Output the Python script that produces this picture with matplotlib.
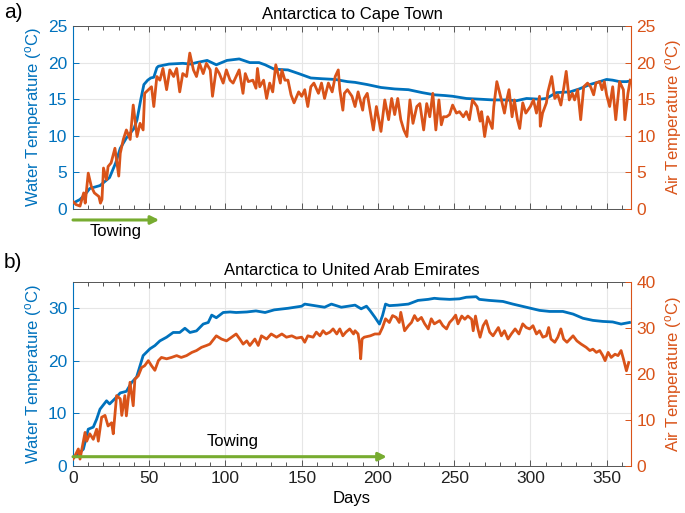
import matplotlib
matplotlib.use("Agg")
import matplotlib.pyplot as plt
from matplotlib.ticker import MultipleLocator

plt.rcParams['font.family'] = ['Liberation Sans', 'DejaVu Sans']
plt.rcParams['mathtext.fontset'] = 'custom'
plt.rcParams['mathtext.rm'] = 'Liberation Sans'
plt.rcParams['mathtext.it'] = 'Liberation Sans'
plt.rcParams['mathtext.default'] = 'regular'

# ---------------- data: panel a (Antarctica to Cape Town) ----------------
a_water_days = [0, 4.6, 8, 11, 17.7, 20, 24, 28, 31, 35, 40, 42, 44.5, 46.5, 49, 51, 53, 55, 56, 63, 72,
                77, 81, 88, 91, 94, 101, 109, 116, 122, 126, 132, 141, 148, 156, 163, 172, 180, 185, 193,
                202, 211, 220, 229, 237, 244, 249, 258, 267, 275.5, 284, 291, 297.5, 306, 310.5, 317, 326,
                332, 339, 345.5, 350, 354, 358.5, 363, 366]
a_water = [0.8, 1.3, 2.0, 2.8, 3.2, 3.6, 4.3, 6.3, 8.3, 9.7, 11.0, 12.2, 15.0, 17.0, 17.6, 17.9, 18.0, 19.3,
           19.5, 19.8, 19.9, 19.8, 20.0, 20.3, 20.0, 19.7, 20.3, 20.5, 20.0, 20.0, 19.7, 19.1, 19.0, 18.5,
           17.9, 17.8, 17.7, 17.4, 17.3, 17.0, 16.6, 16.4, 16.3, 15.9, 15.6, 15.5, 15.4, 15.1, 15.0, 14.9,
           14.9, 14.8, 15.1, 15.0, 15.1, 15.9, 16.0, 16.4, 17.0, 17.4, 17.7, 17.6, 17.4, 17.4, 17.5]

a_air_days = [0, 2, 4.6, 7, 8, 10, 12, 14, 17, 18, 19, 20, 22, 23, 25, 27.5, 30, 31, 33, 35, 37.5, 39.5, 42,
              44, 46, 47, 49.5, 51.5, 53, 55, 57, 59, 61.4, 63.5, 66, 68, 70, 72, 74.5, 76.6, 79, 81, 83,
              85.4, 87.5, 90, 91.5, 94, 96, 98.5, 100.6, 103, 105, 107, 109, 111.5, 113, 115, 118, 120,
              121, 122.5, 125, 127, 129, 131, 133, 136, 137, 139, 141, 143, 145, 148, 150, 152, 154, 156,
              158, 161, 163, 165, 167.5, 170, 172, 174, 175, 177, 178, 180, 183, 185, 187, 190, 191, 193,
              197, 199, 202, 204.5, 207, 209, 211, 213, 215, 217, 219, 221, 223, 225.5, 227.5, 230, 232,
              234, 236, 238, 240, 241.6, 243, 245, 247, 249, 251.5, 253.5, 256, 258, 260, 262, 265, 267,
              268, 270, 272, 275, 276, 278, 281, 283, 284.5, 286, 288, 289.5, 291.5, 293, 295, 297, 300,
              302, 304, 306, 306.5, 308, 310.5, 311.5, 314, 316, 318, 320, 322, 323.5, 325.5, 327.5, 329,
              331, 333, 335, 337.5, 339.5, 341.5, 343, 345.5, 347, 348.5, 350, 352, 354, 356, 358.5, 361,
              362, 364, 365.5]
a_air = [1.0, 0.6, 0.4, 2.2, 0.8, 4.9, 3.1, 2.2, 1.7, 0.8, 1.3, 5.6, 4.0, 5.8, 6.3, 8.3, 4.5, 7.6, 9.5, 10.8,
         9.5, 14.2, 9.9, 11.7, 10.8, 15.8, 16.3, 16.7, 14.0, 18.1, 17.6, 19.2, 16.3, 19.0, 18.1, 19.2, 16.0,
         18.5, 18.1, 21.3, 19.0, 18.1, 19.9, 18.5, 19.9, 19.0, 15.4, 19.2, 18.5, 17.2, 19.0, 17.6, 17.2,
         18.1, 19.0, 15.8, 18.5, 17.4, 17.6, 16.5, 19.2, 16.7, 17.6, 15.1, 17.2, 16.0, 19.7, 17.2, 19.0,
         17.6, 17.6, 15.6, 14.5, 16.0, 15.4, 16.3, 14.0, 16.7, 17.2, 15.8, 17.2, 15.1, 17.2, 16.0, 18.1,
         19.0, 16.3, 13.5, 15.8, 16.3, 15.4, 14.0, 16.0, 13.5, 15.1, 15.8, 10.8, 14.0, 10.6, 14.9, 12.2,
         15.1, 12.9, 15.1, 12.2, 10.8, 9.9, 14.9, 11.7, 14.0, 14.4, 10.8, 14.4, 12.6, 15.8, 10.8, 14.9,
         11.5, 12.6, 12.6, 12.9, 14.2, 13.1, 13.3, 12.6, 13.3, 12.2, 14.9, 14.0, 12.0, 13.3, 9.9, 12.6,
         11.0, 14.0, 17.4, 14.9, 13.1, 14.9, 16.3, 12.6, 14.9, 12.2, 11.0, 14.5, 13.1, 14.0, 14.9, 13.1,
         15.4, 11.3, 13.1, 14.5, 16.0, 18.1, 15.1, 15.6, 14.2, 16.7, 18.8, 14.9, 15.8, 14.9, 16.3, 12.2,
         16.7, 17.2, 16.7, 15.6, 17.2, 17.4, 16.3, 17.4, 15.6, 14.0, 16.7, 12.2, 17.4, 16.3, 12.2, 15.8,
         17.6]

# ---------------- data: panel b (Antarctica to United Arab Emirates) ----------------
b_water_days = [0, 2.4, 6.8, 10, 13.3, 15.5, 17.7, 22, 24, 27.5, 31, 35, 38.5, 41.7, 46, 50.5, 53.7, 57,
                61.4, 65.7, 70, 73.4, 76.7, 81, 85.4, 88.7, 91, 94, 98.5, 103, 107, 114, 120, 126, 132,
                141, 150, 152, 158.5, 165, 169.5, 176, 180.6, 185, 189, 192.5, 195, 198, 201, 203, 205,
                207.5, 213, 220, 226.3, 233, 237, 240.5, 247, 253.5, 258, 264.5, 266.5, 273, 282, 288.5,
                297.3, 306, 312.6, 321.3, 328, 334.5, 341, 347.5, 354, 359.5, 365]
b_water = [1.5, 2.0, 3.2, 7.0, 7.4, 8.9, 10.8, 12.4, 11.8, 12.8, 13.9, 14.2, 15.9, 16.9, 21.0, 22.3, 22.9,
           23.8, 24.5, 25.4, 25.4, 26.2, 25.4, 25.7, 27.0, 27.3, 28.7, 28.2, 29.2, 29.3, 29.2, 29.3, 29.5,
           29.2, 29.7, 30.0, 30.4, 30.8, 30.5, 30.2, 30.8, 30.2, 30.4, 30.6, 29.9, 30.4, 29.5, 28.3, 27.0,
           28.6, 30.8, 30.5, 30.6, 30.8, 31.5, 31.7, 31.9, 31.8, 31.7, 31.8, 32.1, 32.2, 31.7, 31.5, 31.3,
           30.8, 30.2, 29.6, 29.4, 29.4, 28.9, 28.1, 27.7, 27.5, 27.4, 27.0, 27.3]

b_air_days = [0, 1.3, 3.5, 4.6, 7.9, 9, 11, 13.3, 15.5, 16.6, 18.8, 21, 23, 25.3, 26.4, 28.6, 31, 32, 34,
              35, 37.4, 39.5, 40.6, 42.8, 45, 47, 49.4, 51.5, 53.7, 56, 58, 61.4, 64.6, 68, 71, 74.5, 78,
              81, 84.3, 87.6, 89.8, 94, 97.4, 100.7, 104, 107, 109.4, 111.6, 114, 116, 119.3, 121.5, 123.6,
              127, 130, 133.5, 137, 140, 143.5, 146.6, 150, 152, 154, 157.5, 159.6, 162, 164, 166, 168.5,
              170.6, 173, 175, 177, 179, 181.5, 184, 185, 187, 188, 188.7, 189.6, 191, 195, 198, 201, 203,
              205, 207.5, 209.6, 212, 214, 215, 217.5, 220, 222, 224, 226, 228.5, 230.7, 233, 235, 237,
              240.5, 242.6, 245, 247, 249, 251, 252.5, 255, 257, 259, 261.5, 262.5, 264, 265.6, 267, 269,
              271, 273.3, 275.5, 279, 281, 283, 285.3, 287.5, 290, 292.5, 295, 297.3, 299.5, 301.7, 304,
              306, 308.2, 310.5, 312, 313.5, 316, 318, 320, 321.8, 324, 326, 328, 330.5, 333.3, 336.6, 339,
              341, 343.3, 345.5, 347.5, 349, 351, 353, 355.5, 357.5, 359.5, 361, 363, 364.5]
b_air = [1.5, 2.2, 3.7, 1.5, 7.3, 5.4, 7.0, 5.8, 8.0, 5.4, 10.6, 11.0, 8.7, 9.4, 7.0, 15.3, 14.6, 11.0, 15.3,
         10.9, 18.2, 13.1, 18.9, 19.6, 21.4, 21.8, 22.9, 21.8, 20.8, 22.9, 23.6, 23.3, 23.6, 24.0, 23.6,
         24.0, 24.7, 25.1, 25.8, 26.2, 26.5, 28.3, 27.6, 27.2, 28.0, 28.7, 27.6, 26.5, 27.2, 26.2, 27.6,
         26.2, 28.3, 27.6, 28.7, 28.0, 28.7, 28.0, 28.3, 27.8, 28.0, 26.9, 28.3, 28.0, 29.1, 28.3, 29.4,
         28.7, 29.1, 29.8, 28.7, 29.8, 28.3, 29.1, 29.8, 28.7, 29.4, 28.7, 26.5, 23.3, 27.6, 28.0, 28.3,
         28.7, 28.7, 30.1, 32.0, 31.2, 32.7, 32.3, 31.2, 33.4, 29.4, 30.5, 31.2, 32.7, 31.6, 32.3, 30.9,
         29.8, 32.0, 30.9, 31.6, 30.5, 29.8, 31.2, 31.9, 32.8, 30.9, 32.6, 31.9, 32.6, 31.9, 29.4, 32.6,
         29.8, 28.0, 30.5, 31.6, 29.1, 28.3, 30.1, 28.3, 29.4, 27.6, 28.7, 29.8, 28.7, 30.9, 30.1, 29.8,
         30.5, 28.7, 29.4, 28.0, 28.3, 30.1, 27.6, 26.9, 28.0, 29.8, 27.6, 26.9, 27.6, 28.3, 27.2, 26.5,
         25.8, 25.1, 25.4, 24.7, 25.1, 24.0, 22.9, 24.7, 23.6, 24.3, 24.0, 25.1, 23.3, 20.7, 22.5]

panel_titles = ["Antarctica to Cape Town", "Antarctica to United Arab Emirates"]
panel_letters = ["a)", "b)"]
a_left_ticks = [0, 5, 10, 15, 20, 25]
a_right_ticks = [0, 5, 10, 15, 20, 25]
b_left_ticks = [0, 10, 20, 30]
b_right_ticks = [0, 10, 20, 30, 40]
day_ticks = [0, 50, 100, 150, 200, 250, 300, 350]
tow_end = [56.5, 205.8]

# ---------------- styling ----------------
BLUE = '#0072BD'
ORANGE = '#D95319'
GREEN = '#77AC30'
GRID = '#e6e6e6'
BOX = '#555555'
FS = 12
TFS = 12.5

fig = plt.figure(figsize=(6.85, 5.13), dpi=100)
W, H = 685, 513
pos = [(73, 26, 631, 209), (73, 282, 631, 466)]

panels = [
    (a_water_days, a_water, a_air_days, a_air, (0, 25), (0, 25), a_left_ticks, a_right_ticks),
    (b_water_days, b_water, b_air_days, b_air, (0, 35), (0, 40), b_left_ticks, b_right_ticks),
]

for i, (wd, w, ad, a, ylw, yla, lt, rt) in enumerate(panels):
    x0, y0, x1, y1 = pos[i]
    ax = fig.add_axes([x0 / W, 1 - y1 / H, (x1 - x0) / W, (y1 - y0) / H])
    ax2 = ax.twinx()

    ax.plot(wd, w, color=BLUE, lw=2.0, solid_joinstyle='round')
    ax2.plot(ad, a, color=ORANGE, lw=2.0, solid_joinstyle='round')
    ax2.patch.set_visible(False)

    ax.set_xlim(0, 366)
    ax.set_ylim(*ylw)
    ax2.set_ylim(*yla)
    ax.set_yticks(lt)
    ax2.set_yticks(rt)
    ax.set_xticks(day_ticks)
    ax.xaxis.set_minor_locator(MultipleLocator(10))
    ax.grid(True, color=GRID, lw=0.8)
    ax.set_axisbelow(True)

    ax.tick_params(axis='x', which='both', direction='in', top=True, colors=BOX,
                   labelcolor='#222222', labelsize=TFS, length=4, width=0.7)
    ax.tick_params(axis='x', which='minor', length=3)
    ax.tick_params(axis='y', direction='in', colors=BLUE, labelsize=TFS, length=4, width=0.7, pad=4)
    ax2.tick_params(axis='y', direction='in', colors=ORANGE, labelsize=TFS, length=4, width=0.7, pad=4)

    for s in ['top', 'bottom']:
        ax.spines[s].set_color(BOX)
        ax.spines[s].set_linewidth(0.7)
        ax2.spines[s].set_visible(False)
    ax.spines['left'].set_color(BLUE)
    ax.spines['right'].set_visible(False)
    ax2.spines['left'].set_visible(False)
    ax2.spines['right'].set_color(ORANGE)

    ax.set_ylabel(r'Water Temperature ($^{o}$C)', color=BLUE, fontsize=FS, labelpad=3)
    ax2.set_ylabel(r'Air Temperature ($^{o}$C)', color=ORANGE, fontsize=FS, labelpad=5)
    ax.set_title(panel_titles[i], fontsize=FS, pad=5)
    fig.text(4 / W, 1 - (12 if i == 0 else 263) / H, panel_letters[i], fontsize=15, va='center', ha='left')

    if i == 0:
        ax.tick_params(axis='x', labelbottom=False)
        ax2.annotate('', xy=(tow_end[0], -1.5), xytext=(0, -1.5),
                     xycoords=ax.transData, textcoords=ax.transData,
                     arrowprops=dict(arrowstyle='-|>', color=GREEN, lw=2.2, mutation_scale=12,
                                     shrinkA=0, shrinkB=0), annotation_clip=False)
        ax2.text(28, -3.1, 'Towing', transform=ax.transData, fontsize=FS, ha='center', va='center',
                 clip_on=False)
    else:
        ax.set_xlabel('Days', fontsize=FS, labelpad=4)
        ax2.annotate('', xy=(tow_end[1], 1.77), xytext=(0, 1.77),
                     xycoords=ax.transData, textcoords=ax.transData,
                     arrowprops=dict(arrowstyle='-|>', color=GREEN, lw=2.2, mutation_scale=12,
                                     shrinkA=0, shrinkB=0), annotation_clip=False)
        ax2.text(104.5, 4.6, 'Towing', transform=ax.transData, fontsize=FS, ha='center', va='center')

fig.savefig('out.png', dpi=100)
